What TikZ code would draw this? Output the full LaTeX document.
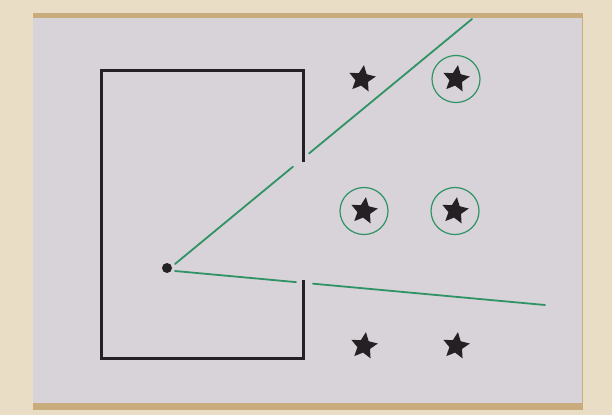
\documentclass[tikz,border=0pt]{standalone}
\usetikzlibrary{shapes.geometric, calc}

\definecolor{mesa}{HTML}{E9DDC6}
\definecolor{carton}{HTML}{D7D3D8}
\definecolor{canto}{HTML}{C9AC7E}
\definecolor{verde}{HTML}{2F9366}
\definecolor{tinta}{HTML}{252023}

\begin{document}
\begin{tikzpicture}[
		x=1pt, y=-1pt,
		% Estilos de la tarjeta y los trazos
		pared/.style={draw=tinta, line width=3pt, line join=miter},
		rayo/.style={draw=verde, line width=1.8pt, line cap=round},
		estrella/.style={star, star points=5, star point ratio=2.1, fill=tinta, draw=none, minimum size=28pt, inner sep=0pt},
		marca/.style={ellipse, draw=verde, line width=1.2pt, minimum width=48pt, minimum height=47pt, inner sep=0pt},
		ojo/.style={circle, fill=tinta, minimum size=10pt, inner sep=0pt}
		]
		
		% --- FONDO: MESA Y TARJETA ---
		\fill[mesa] (0,0) rectangle (612,415);
		\fill[canto] (33,13) rectangle (583,410);
		\fill[carton] (33,18) rectangle (582,403);
		\useasboundingbox (0,0) rectangle (612,415);
		
		% --- CAJA CON DOS ABERTURAS ---
		\coordinate (hueco_sup) at (303,162);
		\coordinate (hueco_inf) at (303,280);
		\draw[pared] (hueco_sup) -- (303,70) -- (101,70) -- (101,358) -- (303,358) -- (hueco_inf);
		
		% --- OBSERVADOR ---
		\node[ojo] (ojo) at (167,268) {};
		\coordinate (ini_sup) at (175,264);
		\coordinate (ini_inf) at (175,271);
		\coordinate (fin_sup) at (472,19);
		\coordinate (fin_inf) at (545,305);
		
		% Rayos de visión, cortados al pasar por las aberturas
		\draw[rayo] (ini_sup) -- ($(ini_sup)!0.397!(fin_sup)$);
		\draw[rayo] ($(ini_sup)!0.451!(fin_sup)$) -- (fin_sup);
		\draw[rayo] (ini_inf) -- ($(ini_inf)!0.327!(fin_inf)$);
		\draw[rayo] ($(ini_inf)!0.373!(fin_inf)$) -- (fin_inf);
		
		% --- ESTRELLAS ---
		\node[estrella, rotate=-8] (e1) at (362,79) {};
		\node[estrella, rotate=-8] (e2) at (456,79) {};
		\node[estrella, rotate=-8] (e3) at (364,211) {};
		\node[estrella, rotate=-8] (e4) at (455,211) {};
		\node[estrella, rotate=-8] (e5) at (364,346) {};
		\node[estrella, rotate=-8] (e6) at (456,346) {};
		
		% Estrellas visibles desde el observador
		\node[marca] (m2) at (e2) {};
		\node[marca] (m3) at (e3) {};
		\node[marca] (m4) at (e4) {};
		
	\end{tikzpicture}
\end{document}
